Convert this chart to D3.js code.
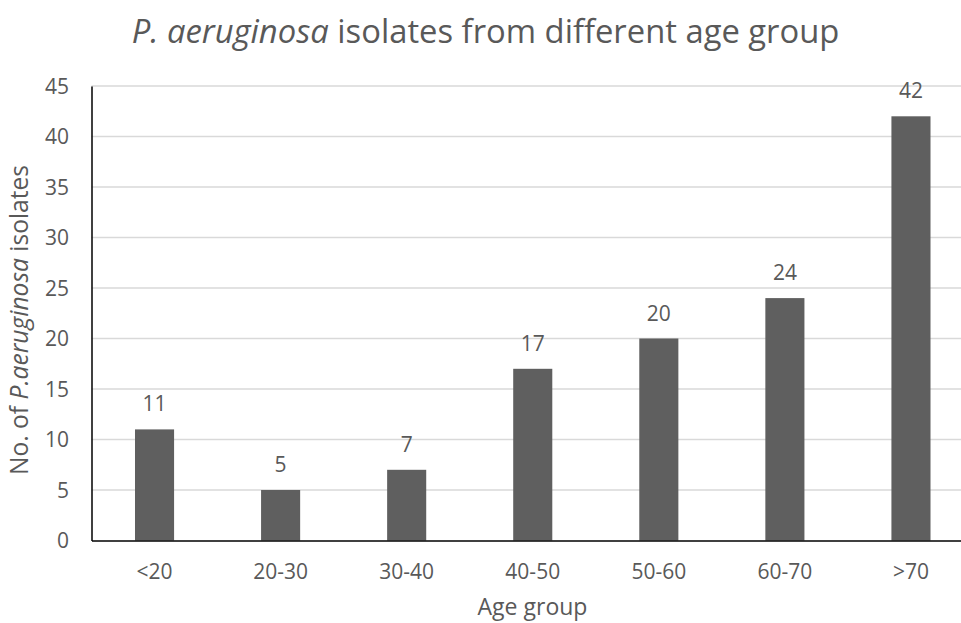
<!DOCTYPE html>
<html>
<head>
<meta charset="utf-8">
<script src="https://cdn.jsdelivr.net/npm/d3@7"></script>
<style>
  html, body { margin: 0; padding: 0; background: #fff; }
  svg { display: block; }
  text { font-family: "Open Sans", "Noto Sans", sans-serif; fill: #595959; }
</style>
</head>
<body>
<svg id="chart" width="961" height="623"></svg>
<script>
// Isolates counted per age group
const ageGroups = ["<20", "20-30", "30-40", "40-50", "50-60", "60-70", ">70"];
const isolates = [11, 5, 7, 17, 20, 24, 42];
const yTicks = [0, 5, 10, 15, 20, 25, 30, 35, 40, 45];

const svg = d3.select("#chart");
// plot area runs slightly past the right edge of the canvas
const plot = { left: 91.5, right: 974, top: 86, bottom: 540.5 };
const labelSize = 21;

const x = d3.scaleBand()
  .domain(ageGroups)
  .range([plot.left, plot.right])
  .paddingInner(0.69)
  .paddingOuter(0.345);

const y = d3.scaleLinear()
  .domain([0, 45])
  .range([plot.bottom, plot.top]);

// fit a text element to a target width by adjusting its font size
function fitWidth(sel, target) {
  const node = sel.node();
  const fs = parseFloat(sel.attr("font-size"));
  const w = node.getComputedTextLength();
  sel.attr("font-size", (fs * target / w).toFixed(2));
}

// horizontal gridlines
svg.append("g")
  .selectAll("line")
  .data(yTicks.filter(d => d > 0))
  .join("line")
  .attr("x1", plot.left)
  .attr("x2", plot.right)
  .attr("y1", d => y(d))
  .attr("y2", d => y(d))
  .attr("stroke", "#d9d9d9")
  .attr("stroke-width", 1.5);

// bars
svg.append("g")
  .selectAll("rect")
  .data(ageGroups.map((g, i) => ({ g, v: isolates[i] })))
  .join("rect")
  .attr("x", d => x(d.g))
  .attr("width", x.bandwidth())
  .attr("y", d => y(d.v))
  .attr("height", d => y(0) - y(d.v))
  .attr("fill", "#5f5f5f");

// value labels
svg.append("g")
  .selectAll("text")
  .data(ageGroups.map((g, i) => ({ g, v: isolates[i] })))
  .join("text")
  .attr("x", d => x(d.g) + x.bandwidth() / 2)
  .attr("y", d => y(d.v) - 18)
  .attr("text-anchor", "middle")
  .attr("font-size", labelSize)
  .text(d => d.v);

// y axis
const yAxis = svg.append("g")
  .attr("transform", `translate(${plot.left},0)`)
  .call(d3.axisLeft(y).tickValues(yTicks).tickSize(0).tickPadding(22.5));
yAxis.select(".domain").attr("stroke", "#000").attr("stroke-width", 1.5);
yAxis.selectAll("text")
  .attr("font-size", labelSize)
  .attr("font-family", null)
  .attr("fill", "#595959")
  .attr("dy", "0.35em");

// x axis
const xAxis = svg.append("g")
  .attr("transform", `translate(0,${plot.bottom})`)
  .call(d3.axisBottom(x).tickSize(0).tickPadding(24));
xAxis.select(".domain").attr("stroke", "#000").attr("stroke-width", 1.5);
xAxis.selectAll("text")
  .attr("font-size", labelSize)
  .attr("font-family", null)
  .attr("fill", "#595959");

// title
const title = svg.append("text")
  .attr("x", 485.5)
  .attr("y", 43)
  .attr("text-anchor", "middle")
  .attr("font-size", 30);
title.append("tspan").attr("font-style", "italic").text("P. aeruginosa");
title.append("tspan").text(" isolates from different age group");
fitWidth(title, 708);

// x axis title
const xTitle = svg.append("text")
  .attr("x", 532.5)
  .attr("y", 615)
  .attr("text-anchor", "middle")
  .attr("font-size", 22)
  .text("Age group");
fitWidth(xTitle, 110);

// y axis title
const yTitle = svg.append("text")
  .attr("transform", "translate(28,320) rotate(-90)")
  .attr("text-anchor", "middle")
  .attr("font-size", 22);
yTitle.append("tspan").text("No. of ");
yTitle.append("tspan").attr("font-style", "italic").text("P.aeruginosa");
yTitle.append("tspan").text(" isolates");
fitWidth(yTitle, 310);
</script>
</body>
</html>
